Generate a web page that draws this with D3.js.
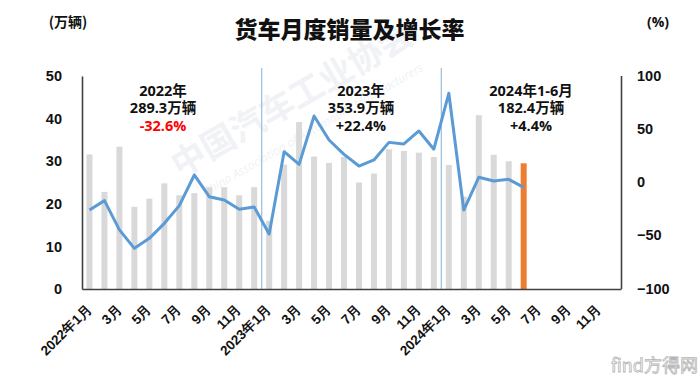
<!DOCTYPE html>
<html>
<head>
<meta charset="utf-8">
<script src="https://cdn.jsdelivr.net/npm/d3@7/dist/d3.min.js"></script>
<style>
html,body{margin:0;padding:0;background:#fff;}
svg{display:block;font-family:"Open Sans","Noto Sans CJK SC",sans-serif;}
</style>
</head>
<body>
<svg id="chart" width="700" height="376"></svg>
<script>
// ---- data ----
const years = [2022, 2023, 2024];
const sales2022 = [31.6, 22.8, 33.4, 19.3, 21.2, 24.8, 22.0, 22.5, 23.9, 23.9, 22.0, 23.9];
const sales2023 = [16.0, 29.2, 39.2, 31.1, 29.6, 31.0, 25.0, 27.1, 32.8, 32.4, 32.0, 31.0];
const sales2024 = [29.1, 21.7, 40.8, 31.5, 30.0, 29.5];
const growth2022 = [-26.3, -17.5, -45.0, -62.3, -52.9, -38.8, -22.2, 6.6, -13.8, -16.9, -25.6, -23.5];
const growth2023 = [-48.8, 28.5, 16.6, 62.0, 39.4, 26.0, 15.0, 20.7, 37.2, 35.7, 47.9, 30.8];
const growth2024 = [83.3, -26.3, 4.4, 0.9, 2.5, -5.0];
const leftTicks = [0, 10, 20, 30, 40, 50];
const rightTicks = [-100, -50, 0, 50, 100];
const xTickLabels = ["2022年1月","3月","5月","7月","9月","11月","2023年1月","3月","5月","7月","9月","11月","2024年1月","3月","5月","7月","9月","11月"];
const annotations = [
  {lines: ["2022年", "289.3万辆", "-32.6%"], red: true, year: 2022},
  {lines: ["2023年", "353.9万辆", "+22.4%"], red: false, year: 2023},
  {lines: ["2024年1-6月", "182.4万辆", "+4.4%"], red: false, year: 2024}
];
const title = "货车月度销量及增长率";
const leftUnit = "(万辆)";
const rightUnit = "(%)";

// ---- build month keys ----
const months = [];
years.forEach(y => { for (let m = 1; m <= 12; m++) months.push(y + "-" + m); });
const salesAll = sales2022.concat(sales2023, sales2024);
const growthAll = growth2022.concat(growth2023, growth2024);
const salesData = salesAll.map((v, i) => ({key: months[i], v, last: i === salesAll.length - 1}));
const growthData = growthAll.map((v, i) => ({key: months[i], v}));

const svg = d3.select("#chart");
const x0 = 82, x1 = 621, yTop = 76, yBot = 289;

const x = d3.scaleBand().domain(months).range([x0, x1]).padding(0);
const yL = d3.scaleLinear().domain([0, 50]).range([yBot, yTop]);
const yR = d3.scaleLinear().domain([-100, 100]).range([yBot - 0.5, yTop - 0.5]);

// ---- faint watermark ----
const wm = svg.append("g").attr("fill", "#f0f2f6");
wm.append("text").attr("transform", "translate(180,178) rotate(-30)")
  .attr("font-size", 34).attr("font-weight", 700).attr("font-family", "Noto Sans CJK SC").text("中国汽车工业协会");
wm.append("text").attr("transform", "translate(206,196) rotate(-30)")
  .attr("font-size", 12).attr("font-style", "italic")
  .text("China Association of Automobile Manufacturers");

// ---- bars ----
const barW = 6;
svg.append("g").selectAll("rect").data(salesData).join("rect")
  .attr("x", d => x(d.key) + x.bandwidth() / 2 - barW / 2)
  .attr("y", d => yL(d.v))
  .attr("width", barW)
  .attr("height", d => yBot - yL(d.v))
  .attr("fill", d => d.last ? "#ed7d31" : "#d9d9d9");

// ---- year separators ----
svg.append("g").selectAll("line").data(["2023-1", "2024-1"]).join("line")
  .attr("x1", d => x(d)).attr("x2", d => x(d))
  .attr("y1", 68).attr("y2", yBot)
  .attr("stroke", "#9dc3e6").attr("stroke-width", 1.3);

// ---- growth line ----
const line = d3.line().x(d => x(d.key) + x.bandwidth() / 2).y(d => yR(d.v));
svg.append("path").datum(growthData)
  .attr("d", line).attr("fill", "none")
  .attr("stroke", "#5b9bd5").attr("stroke-width", 3).attr("stroke-linejoin", "round");

// ---- axes ----
const axL = svg.append("g").attr("transform", `translate(${x0},0)`)
  .call(d3.axisLeft(yL).tickValues(leftTicks).tickSize(0).tickPadding(20));
const axR = svg.append("g").attr("transform", `translate(${x1},0)`)
  .call(d3.axisRight(yR).tickValues(rightTicks).tickSize(0).tickPadding(16).tickFormat(d3.format("d")));
const oddMonths = months.filter((m, i) => i % 2 === 0);
const axB = svg.append("g").attr("transform", `translate(0,${yBot})`)
  .call(d3.axisBottom(x).tickValues(oddMonths).tickSize(0).tickFormat((d, i) => xTickLabels[i]));

[axL, axR, axB].forEach(a => {
  a.select(".domain").attr("stroke", "#404040").attr("stroke-width", 1.6);
  a.selectAll("text").attr("fill", "#111").attr("font-weight", 700);
});
axL.selectAll("text").attr("font-size", 14.5);
axR.selectAll("text").attr("font-size", 14.5);
axB.selectAll("text")
  .attr("font-size", 13.5)
  .attr("text-anchor", "end")
  .attr("dy", 0)
  .attr("y", 0)
  .attr("transform", "translate(3,21) rotate(-45)");

// ---- title & units ----
svg.append("text").attr("x", 349.5).attr("y", 37.5).attr("text-anchor", "middle")
  .attr("font-size", 23).attr("font-weight", 900).attr("fill", "#111")
  .attr("font-family", "Noto Sans CJK SC").text(title);
svg.append("text").attr("x", 68).attr("y", 27).attr("text-anchor", "middle")
  .attr("font-size", 14).attr("font-weight", 700).attr("fill", "#111")
  .attr("font-family", "Noto Sans CJK SC").text(leftUnit);
svg.append("text").attr("x", 658).attr("y", 27).attr("text-anchor", "middle")
  .attr("font-size", 14).attr("font-weight", 700).attr("fill", "#111").text(rightUnit);

// ---- annotations ----
const annoX = {2022: 163, 2023: 361, 2024: 531};
annotations.forEach(a => {
  const g = svg.append("g").attr("text-anchor", "middle").attr("font-size", 14.5).attr("font-weight", 700);
  a.lines.forEach((t, i) => {
    g.append("text").attr("x", annoX[a.year]).attr("y", 95.5 + i * 17.8)
      .attr("fill", (i === 2 && a.red) ? "#ff0000" : "#111").text(t);
  });
});

// ---- corner watermark ----
svg.append("text").attr("x", 698).attr("y", 372).attr("text-anchor", "end")
  .attr("font-size", 18).attr("fill", "#fff").attr("stroke", "#b5b5b5").attr("stroke-width", 0.8)
  .attr("font-family", "Noto Sans CJK SC").text("find方得网");
</script>
</body>
</html>
